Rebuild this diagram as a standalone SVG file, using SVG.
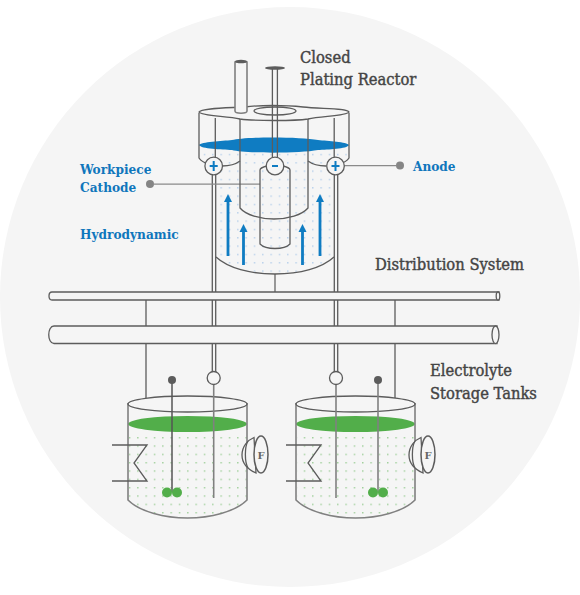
<svg xmlns="http://www.w3.org/2000/svg" width="580" height="595" viewBox="0 0 580 595">
<style>
.l{fill:none;stroke:#5c5c5c;stroke-width:1.3}
.g{fill:none;stroke:#808080;stroke-width:1.6}
.w{fill:#f5f5f5;stroke:#5c5c5c;stroke-width:1.3}
.t{font-family:"DejaVu Serif Condensed","DejaVu Serif",serif;font-size:16.400px;font-weight:400;fill:#444;stroke:#444;stroke-width:.4}
.b{font-family:"DejaVu Serif Condensed","DejaVu Serif",serif;font-size:13.500px;font-weight:700;fill:#0f76bc}
.f{font-family:"DejaVu Serif",serif;font-size:10px;font-weight:700;fill:#666}
.a{fill:none;stroke:#0f7cc2;stroke-width:2.8}
.h{fill:#0f7cc2}
.gb{fill:#52ae4a}
</style>
<defs>
<pattern id="pb" width="8.33" height="8.33" patternUnits="userSpaceOnUse" x="2" y="2"><rect x="2" y="2" width="1.2" height="1.2" fill="#9dc1e6"/></pattern>
<pattern id="pg" width="8.33" height="8.33" patternUnits="userSpaceOnUse" x="2" y="2"><rect x="2" y="2" width="1.2" height="1.2" fill="#7cc075"/></pattern>
</defs>
<circle cx="290" cy="297" r="290" fill="#f5f5f5"/>
<g id="connectors">
<path class="l" d="M146 300V326M146 344V398M395 300V326M395 344V398"/>
<path class="g" d="M275 274V292"/>
<path class="l" d="M212.300 175V292M215.700 175V292M212.300 300V326M215.700 300V326M212.300 344V372M215.700 344V372"/>
<path class="l" d="M334.300 175V292M337.700 175V292M334.300 300V326M337.700 300V326M334.300 344V372M337.700 344V372"/>
<path d="M154 184H260M344 165.500H396" fill="none" stroke="#8a8a8a" stroke-width="1.250"/>
</g>
<g id="reactor">
<path d="M201 152H347V158C340 162 325 163 334 162V257C320 268 300 274 275 274C250 274 230 268 216 257V165H205L201 160Z" fill="url(#pb)"/>
<path d="M199 145C201 142 222 141 232 140C245 136.500 300 136.500 318 140C328 141 347 142 349 145C347 149 328 149.500 318 150C300 153.500 245 153.500 232 150C222 149.500 201 149 199 145Z" fill="#0f7cc2"/>
<path class="l" d="M199 113V158C201 161 205 163 208 164M222 166C229 166 236 164 240 161M349 113V158C347 161 343 163 340 164M326 166C319 166 312 164 308 161"/>
<path class="l" d="M216 257C228 268 250 274 275 274C300 274 322 268 334 257"/>
<path class="l" d="M240 117V208C246 215 260 219 274 219C288 219 302 215 308 208V117"/>
<path class="l" d="M267 166C263 167 260 168 260 170V244C266 250 284 250 290 244V170C290 168 287 167 283 166"/>
<path class="l" d="M215.300 118V157M334.200 118V157"/>
<path class="w" d="M199 112C201 108 225 108 245 107C260 105 285 105 303 107C320 109 347 108 349 112C347 116 322 116 308 119C295 121 255 121 240 119C226 116 201 116 199 112Z"/>
<ellipse class="w" cx="275" cy="111" rx="21" ry="4"/>
<path d="M235 62V111C235 114 247 114 247 111V62Z" fill="#f5f5f5" stroke="#808080" stroke-width="1.600"/>
<ellipse cx="241" cy="61.500" rx="6" ry="1.700" fill="#5c5c5c"/>
<path class="l" d="M272.400 69V157M277.400 69V157"/>
<ellipse cx="275" cy="68" rx="10" ry="1.800" fill="#5c5c5c"/>
<g id="plus-left"><circle class="w" cx="213.700" cy="166" r="8.800"/><path class="h" d="M209.700 165h3v-4h2v4h3v2h-3v4h-2v-4h-3z"/></g>
<g id="minus"><circle class="w" cx="275" cy="166" r="8.800"/><rect class="h" x="272" y="165" width="6" height="2"/></g>
<g id="plus-right"><circle class="w" cx="335.500" cy="166" r="8.800"/><path class="h" d="M331.500 165h3v-4h2v4h3v2h-3v4h-2v-4h-3z"/></g>
<path class="a" d="M228 256V200M243.500 265V230M302.500 265V230M320 256V200"/>
<path class="h" d="M228 194l4 8h-8zM243.500 224l4 8h-8zM302.500 224l4 8h-8zM320 194l4 8h-8z"/>
</g>
<g id="pipes">
<path class="w" d="M52 292H499V300H52C48 300 48 292 52 292Z"/>
<ellipse class="w" cx="498" cy="296" rx="1.800" ry="4"/>
<path class="w" d="M54 326H497V343.500H54C47 343.500 47 326 54 326Z"/>
<ellipse class="w" cx="495.500" cy="334.800" rx="3.500" ry="8.800"/>
</g>
<g id="tank-left">
<path d="M129 432H247V500C235 512 210 518 187 518C165 518 140 512 129 500Z" fill="url(#pg)"/>
<ellipse cx="187.500" cy="424" rx="59.500" ry="8" fill="#52ae4a"/>
<path class="g" d="M128 403V500C140 512 165 518 187.500 518C210 518 235 512 247 500V403"/>
<ellipse class="l" cx="187.500" cy="404" rx="59.500" ry="8"/>
<path class="l" d="M112 445H147L134 463L147 481H112"/>
<path d="M172 380V492" fill="none" stroke="#555" stroke-width="1.500"/>
<circle cx="172" cy="380" r="4" fill="#5c5c5c"/>
<circle class="gb" cx="167" cy="492.500" r="5"/><circle class="gb" cx="177" cy="492.500" r="5"/>
<path class="g" d="M213.700 384V498"/>
<circle class="w" cx="213.700" cy="378" r="6.500"/>
<path class="w" d="M254 437.500C248 440 242 446 242 455C242 464 247 469 256 473Z"/>
<path class="l" d="M248 441C244.500 447 244.500 462 248 468"/>
<ellipse class="w" cx="261" cy="454.500" rx="7" ry="18.500" style="stroke-width:1.500"/>
<text class="f" x="261" y="458.500" text-anchor="middle">F</text>
</g>
<g id="tank-right">
<path d="M297 432H415V500C403 512 378 518 355 518C333 518 308 512 297 500Z" fill="url(#pg)"/>
<ellipse cx="355.500" cy="424" rx="59.500" ry="8" fill="#52ae4a"/>
<path class="g" d="M296 403V500C308 512 333 518 355.500 518C378 518 403 512 415 500V403"/>
<ellipse class="l" cx="355.500" cy="404" rx="59.500" ry="8"/>
<path class="l" d="M286 445H321L308 463L321 481H286"/>
<path class="g" d="M378 380V492"/>
<circle cx="378" cy="380" r="4" fill="#5c5c5c"/>
<circle class="gb" cx="373" cy="492.500" r="5"/><circle class="gb" cx="383" cy="492.500" r="5"/>
<path class="g" d="M336 384V498"/>
<circle class="w" cx="336" cy="378" r="6.500"/>
<path class="w" d="M421 437.500C415 440 409 446 409 455C409 464 414 469 423 473Z"/>
<path class="l" d="M415 441C411.500 447 411.500 462 415 468"/>
<ellipse class="w" cx="428" cy="454.500" rx="7" ry="18.500" style="stroke-width:1.500"/>
<text class="f" x="428" y="458.500" text-anchor="middle">F</text>
</g>
<g id="labels">
<circle cx="150" cy="184" r="4" fill="#858585"/>
<circle cx="400" cy="165.500" r="4" fill="#858585"/>
<text class="t" x="300" y="63">Closed</text>
<text class="t" x="300" y="85">Plating Reactor</text>
<text class="b" x="80" y="174">Workpiece</text>
<text class="b" x="80" y="192">Cathode</text>
<text class="b" x="80" y="239">Hydrodynamic</text>
<text class="b" x="413" y="171">Anode</text>
<text class="t" x="375" y="270">Distribution System</text>
<text class="t" x="430" y="376">Electrolyte</text>
<text class="t" x="430" y="399">Storage Tanks</text>
</g>
</svg>
